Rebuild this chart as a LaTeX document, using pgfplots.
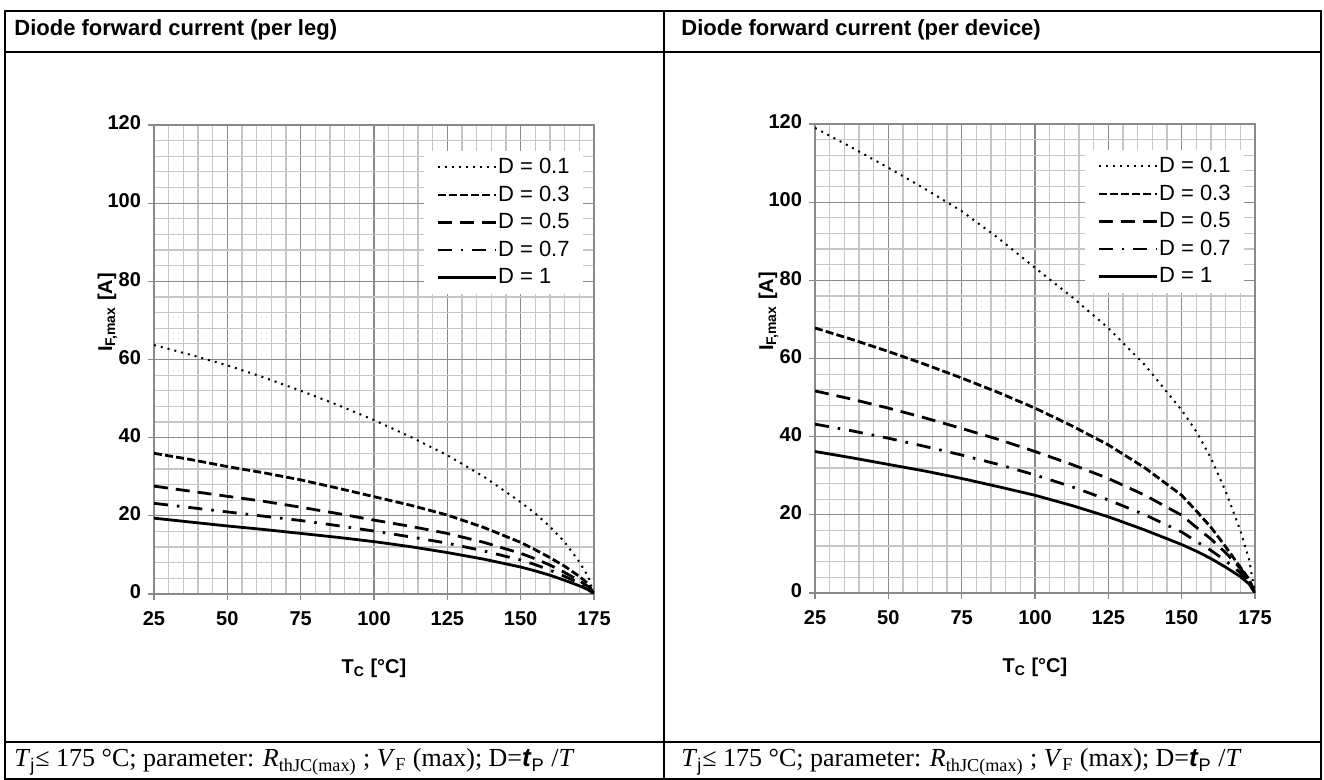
\documentclass[border=0pt]{standalone}
\usepackage{fontspec}
\setmainfont{Liberation Serif}
\setsansfont{Liberation Sans}
\usepackage{pgfplots}
\usepackage{pgfplotstable}
\pgfplotsset{compat=1.18}

\definecolor{gmajor}{HTML}{8A8A8A}
\definecolor{gminor}{HTML}{C6C6C6}

% per leg
\pgfplotstableread{
T     d01   d03   d05   d07   d1
25    63.7  36.0  27.6  23.2  19.4
37.5  61.2  34.4  26.3  22.1  18.4
50    58.5  32.6  25.0  21.0  17.4
62.5  55.4  31.0  23.7  19.9  16.5
75    52.0  29.2  22.2  18.8  15.5
87.5  48.4  27.1  20.6  17.5  14.5
100   44.5  24.9  18.9  16.1  13.4
112.5 40.2  22.7  17.3  14.6  12.1
125   35.5  20.2  15.5  13.0  10.6
137.5 30.0  17.0  13.2  11.0  8.9
150   23.5  13.2  10.4  8.7   6.9
155   20.6  11.3  9.0   7.5   5.9
160   17.2  9.3   7.4   6.1   4.8
165   13.3  7.1   5.5   4.5   3.5
170   8.2   4.5   3.4   2.8   2.1
173   4.5   2.6   1.9   1.5   1.1
175   0     0     0     0     0
}\legtable

% per device
\pgfplotstableread{
T     d01   d03   d05   d07   d1
25    119.0 67.8  51.7  43.2  36.2
37.5  114.0 64.9  49.6  41.5  34.6
50    108.8 61.8  47.3  39.6  32.9
62.5  103.4 58.5  44.8  37.5  31.2
75    97.7  55.0  42.1  35.3  29.3
87.5  90.8  51.3  39.3  32.9  27.2
100   83.2  47.3  36.2  30.2  25.0
112.5 75.8  42.8  32.9  27.2  22.4
125   67.8  37.9  29.3  23.8  19.5
137.5 58.3  32.0  25.0  20.0  16.1
150   46.8  25.0  19.9  15.6  12.4
155   41.3  21.0  16.8  13.2  10.7
160   34.5  16.8  13.8  10.9  8.8
165   26.0  11.8  10.3  8.2   6.6
170   16.0  6.6   6.3   5.2   4.2
173   8.5   3.5   3.4   2.9   2.3
175   0     0     0     0     0
}\devtable

\pgfplotsset{
  derate/.style={
    scale only axis, width=220pt, height=234.5pt,
    xmin=25, xmax=175, ymin=0, ymax=120,
    xtick={25,50,...,175}, ytick={0,20,...,120},
    minor x tick num=4, minor y tick num=4,
    grid=both,
    major grid style={gmajor, line width=0.6pt},
    minor grid style={gminor, line width=0.6pt},
    axis line style={gmajor, line width=0.6pt},
    major tick style={gmajor, line width=0.6pt},
    tick align=outside, major tick length=3pt, minor tick length=0pt,
    xtick pos=left, ytick pos=left,
    /pgf/number format/assume math mode=true,
    typeset ticklabels with strut,
    ticklabel style={font=\sffamily\bfseries\fontsize{10}{12}\selectfont},
    xticklabel style={yshift=-1pt},
    label style={font=\sffamily\bfseries\fontsize{10}{12}\selectfont},
    xlabel={T\textsubscript{C} [°C]},
    ylabel={I\textsubscript{F,max} [A]},
    xlabel style={at={(axis description cs:0.5,-0.158)}, anchor=center},
    ylabel style={at={(axis description cs:-0.106,0.6)}, anchor=center},
    legend style={at={(0.975,0.945)}, anchor=north east, draw=none, fill=white,
      font=\sffamily\fontsize{11}{13}\selectfont, inner xsep=6pt, inner ysep=3pt,
      row sep=3.6pt, nodes={inner sep=0.5pt}},
    legend cell align=left,
    legend image code/.code={\draw[#1] (0pt,0pt) -- (29pt,0pt);},
  },
  s01/.style={black, line width=1pt, dash pattern=on 1pt off 2.5pt},
  s03/.style={black, line width=1.4pt, dash pattern=on 4pt off 1.6pt},
  s05/.style={black, line width=1.4pt, dash pattern=on 7pt off 4pt},
  s07/.style={black, line width=1.4pt, dash pattern=on 7pt off 4.5pt on 1.3pt off 4.5pt},
  s1/.style={black, line width=1.4pt},
}

\begin{document}
\begin{tikzpicture}[x=0.5pt, y=0.5pt]
\useasboundingbox (0,0) rectangle (1324,780);

% table frame
\draw[line width=1pt] (5,1) rectangle (1321,769);
\draw[line width=1pt] (5,728) -- (1321,728);
\draw[line width=1pt] (5,38) -- (1321,38);
\draw[line width=1pt] (664,1) -- (664,769);

\node[anchor=west, inner sep=0, font=\sffamily\bfseries\fontsize{11}{13}\selectfont] at (14,750) {Diode forward current (per leg)};
\node[anchor=west, inner sep=0, font=\sffamily\bfseries\fontsize{11}{13}\selectfont] at (681,750) {Diode forward current (per device)};

\node[anchor=base west, inner sep=0, font=\fontsize{13}{15}\selectfont] at (14,13)
  {\textit{T}\textsubscript{\sffamily j}≤ 175 °C; parameter: \textit{R}\textsubscript{thJC(max)} ; \textit{V}\textsubscript{F} (max); D=\textsf{\bfseries\itshape t}\textsubscript{\sffamily P} /\textit{T}};
\node[anchor=base west, inner sep=0, font=\fontsize{13}{15}\selectfont] at (681,13)
  {\textit{T}\textsubscript{\sffamily j}≤ 175 °C; parameter: \textit{R}\textsubscript{thJC(max)} ; \textit{V}\textsubscript{F} (max); D=\textsf{\bfseries\itshape t}\textsubscript{\sffamily P} /\textit{T}};

\begin{axis}[derate, at={(77pt,93pt)}, anchor=south west]
\addplot[s01] table[x=T, y=d01] {\legtable}; \addlegendentry{D = 0.1}
\addplot[s03] table[x=T, y=d03] {\legtable}; \addlegendentry{D = 0.3}
\addplot[s05] table[x=T, y=d05] {\legtable}; \addlegendentry{D = 0.5}
\addplot[s07] table[x=T, y=d07] {\legtable}; \addlegendentry{D = 0.7}
\addplot[s1]  table[x=T, y=d1]  {\legtable}; \addlegendentry{D = 1}
\end{axis}

\begin{axis}[derate, at={(407.5pt,93.5pt)}, anchor=south west]
\addplot[s01] table[x=T, y=d01] {\devtable}; \addlegendentry{D = 0.1}
\addplot[s03] table[x=T, y=d03] {\devtable}; \addlegendentry{D = 0.3}
\addplot[s05] table[x=T, y=d05] {\devtable}; \addlegendentry{D = 0.5}
\addplot[s07] table[x=T, y=d07] {\devtable}; \addlegendentry{D = 0.7}
\addplot[s1]  table[x=T, y=d1]  {\devtable}; \addlegendentry{D = 1}
\end{axis}
\end{tikzpicture}
\end{document}
